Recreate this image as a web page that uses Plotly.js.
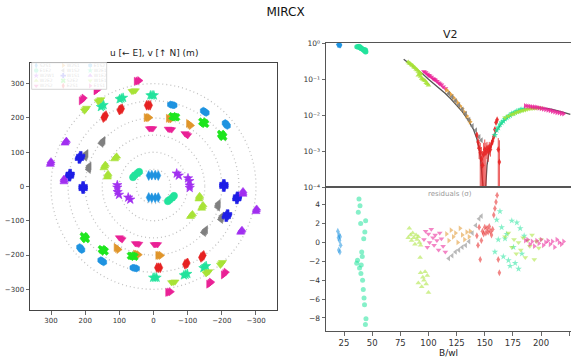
<!DOCTYPE html>
<html><head><meta charset="utf-8">
<script src="https://cdn.plot.ly/plotly-3.0.1.min.js"></script>
<style>html,body{margin:0;padding:0;background:#fff}#chart{width:571px;height:360px}</style>
</head><body><div id="chart"></div>
<script>
// ---------- baselines ----------
const baselines = ['S2S1','E1E2','W2W1','W2E2','W2S2','W2S1','W1S2','W1S1','S2E2','E2S1','E1S2','W2E1','W1E2','W1E1','E1S1'];
const colors = ['#1f93e0','#22e39c','#a12ff0','#a8e337','#ea2196','#e0962b','#808080','#1e1ee6','#1ee61e','#e62222','#1f93e0','#22e39c','#a12ff0','#a8e337','#ea2196'];
const symbols = ['diamond-tall','circle','star','triangle-up','triangle-down','triangle-right','triangle-left','cross','x','diamond-tall','hexagon','star','triangle-up','triangle-down','triangle-right'];

// ---------- uv coverage (m), one side; conjugate drawn mirrored ----------
const uS2S1 = [14,5,-5,-14];                                  const vS2S1 = [32,33,33,32];
const uE1E2 = [60,55,47,42];                                  const vE1E2 = [27,33,39,43];
const uW2W1 = [-68,-74,-101,-105,-106,-106];                  const vW2W1 = [38,32,24,16,3,-4];
const uW2E2 = [108,111,114,141,143,145,133,134,135];          const vW2E2 = [88,84,80,64,59,54,37,32,27];
const uW2S2 = [12,7,2,-43,-48,-53,-92,-96,-100];              const vW2S2 = [169,169,169,168,167,166,155,152,149];
const uW2S1 = [22,17,12,-43,-48,-53,-102,-106,-110];          const vW2S1 = [201,201,201,199,198,197,184,181,178];
const uW1S2 = [147,150,153,197,199,201,188,189,190];          const vW1S2 = [134,130,126,96,91,86,60,55,50];
const uW1S1 = [-206,-206,-206,-246,-245,-244,-217,-215,-213]; const vW1S1 = [8,3,-2,-28,-33,-38,-80,-85,-90];
const uS2E2 = [-56,-61,-66,-143,-147,-151,-198,-201,-204];    const vS2E2 = [205,203,202,189,186,183,153,149,145];
const uE2S1 = [20,15,10,100,96,92,147,143,139];               const vE2S1 = [237,237,237,223,225,227,201,204,207];
const uE1S2 = [-50,-55,-60,-146,-150,-154,-210,-213,-216];    const vE1S2 = [239,238,237,221,218,215,185,181,177];
const uW2E1 = [9,4,-1,99,94,89,154,150,146];                  const vW2E1 = [266,266,266,255,257,259,232,235,238];
const uW1E2 = [255,257,259,300,301,302,262,262,262];          const vW1E2 = [134,130,126,74,69,64,23,18,13];
const uW1E1 = [63,58,53,162,158,154,202,199,196];             const vW1E1 = [278,279,280,248,251,254,221,225,229];
const uE1S1 = [51,46,41,169,165,161,212,208,204];             const vE1S1 = [307,308,309,279,282,285,250,254,258];
const circleRadii = [50,100,150,200,250,300];

// ---------- V2 and residuals vs B/wl ----------
const bwlS2S1 = [19.5,20,20.3,20.6,21,21.3,21.6,22];
const v2S2S1  = [0.93,0.92,0.94,0.91,0.92,0.90,0.91,0.90];
const resS2S1 = [1.2,0.5,-0.8,0.8,0.2,-1.0,0.6,-0.3];

const bwlE1E2 = [37.7,38.3,39.2,39.8,40.7,41.2,36.3,37.0,38.8,40.0,41.5,42.1,42.8,43.2,44.5,44.0,43.5,44.2,42.5,40.3];
const v2E1E2  = [0.82,0.83,0.80,0.77,0.72,0.71,0.80,0.79,0.75,0.73,0.68,0.66,0.63,0.62,0.58,0.57,0.66,0.65,0.67,0.72];
const resE1E2 = [3.2,4.6,3.9,2.0,-1.0,-1.5,-2.2,-1.9,-2.7,-3.3,-4.0,-5.0,-5.9,-6.6,-8.1,-8.7,1.1,2.3,0.4,-2.4];

const bwlW2E2 = [82,83,84,85,86,87,88,89,90,91,92,93,91,93,94,95,96,97,98,99,100,92.6];
const v2W2E2  = [0.30,0.28,0.27,0.25,0.24,0.22,0.21,0.19,0.18,0.165,0.155,0.145,0.13,0.12,0.105,0.10,0.095,0.09,0.08,0.075,0.068,0.14];
const resW2E2 = [0.5,1.5,0.8,0.2,1.0,0.5,-0.2,0.8,0.3,0.6,0.0,-0.3,-4.3,-3.2,-4.7,-3.7,-4.0,-3.1,-4.4,-3.5,-5.3,-1.6];

const bwlW2S2 = [96,97.5,99,100,101,102.5,104,105,106,107.5,109,110,111.5,113,115];
const v2W2S2  = [0.165,0.155,0.14,0.13,0.125,0.115,0.105,0.10,0.095,0.088,0.08,0.075,0.07,0.062,0.055];
const resW2S2 = [0.3,1.2,-0.5,0.9,0.0,1.4,0.5,-0.3,0.8,0.2,-0.8,1.0,0.4,-0.4,-1.0];

const bwlW2S1 = [116,118,120,122,124,126,128,130,132,134,136,137];
const v2W2S1  = [0.05,0.043,0.037,0.031,0.026,0.022,0.018,0.015,0.012,0.0095,0.0075,0.0065];
const resW2S1 = [0.9,0.2,1.3,0.6,1.0,0.0,1.5,0.8,0.3,1.1,0.6,1.2];

const bwlW1S2 = [118,121,124,127,130,133,136,139,142,145,147];
const v2W1S2  = [0.04,0.032,0.025,0.019,0.0145,0.011,0.0075,0.005,0.0038,0.0025,0.002];
const resW1S2 = [-1.7,-1.4,-1.0,-0.8,-0.5,-0.3,0.1,1.0,1.8,2.5,2.8];

const bwlE2S1 = [143,144,145,146,147,148,149,150,151,152,153,154,155,156,157,158,159,160,161,162,163];
const v2E2S1  = [0.0028,0.0018,0.0012,0.0009,0.0006,0.0004,0.0008,0.0011,0.0009,0.0012,0.0010,0.0013,0.0011,0.0016,0.0019,0.0025,0.004,0.0062,0.0075,0.0011,0.0005];
const errE2S1 = [0.0005,0.0006,0.0006,0.0008,0.0007,0.0006,0.0009,0.0010,0.0008,0.0006,0.0005,0.0005,0.0004,0.0004,0.0004,0.0004,0.0005,0.0006,0.0006,0.0012,0.0015];
const resE2S1 = [0.7,-0.3,1.6,-1.8,0.2,1.2,0.9,1.6,1.0,1.5,1.1,1.7,1.2,0.8,1.4,2.9,3.6,4.3,5.0,-1.8,-3.2];

const bwlW2E1 = [159,160.6,162,163.5,165,166.5,168,169.5,171,172.5,174,175.5,177,178.5,180,181.5,183,185];
const v2W2E1  = [0.0028,0.0038,0.0045,0.0055,0.0062,0.0068,0.0078,0.0085,0.0092,0.0098,0.011,0.0112,0.012,0.0128,0.013,0.014,0.0142,0.0148];
const resW2E1 = [-1.0,2.4,0.3,3.3,1.6,-1.5,0.4,0.9,-1.9,-2.5,2.3,-0.5,-2.2,2.1,-2.8,1.5,-1.2,0.7];

const bwlW1E1 = [168,171,174,176,178,180,182,184,186,188,190,192,194,196,198,200];
const v2W1E1  = [0.0085,0.0095,0.0105,0.011,0.0118,0.0125,0.013,0.0135,0.014,0.0145,0.015,0.0153,0.0155,0.0158,0.016,0.0158];
const resW1E1 = [0.6,1.0,-0.5,0.3,-1.2,0.0,-0.8,0.5,-1.6,0.2,-0.4,0.8,-1.8,0.1,-0.6,0.3];

const bwlE1S1 = [186,188,190,192,194,196,198,200,202,204,206,208,210,212,214,216,218,220];
const v2E1S1  = [0.018,0.0178,0.0175,0.017,0.0168,0.0165,0.016,0.0155,0.015,0.0145,0.014,0.0135,0.013,0.0125,0.012,0.0117,0.0113,0.011];
const resE1S1 = [0.2,0.3,-0.2,0.1,-0.4,0.2,-0.1,0.3,-0.3,0.0,0.2,-0.2,0.1,-0.5,0.3,0.0,-0.2,0.1];

// model curve
const modelBwl = [78,85,90,95,100,105,110,115,120,125,130,135,140,143,145,146.5,147.5,148.5,150,151,152,154,156,158,160,165,170,175,180,185,190,195,200,205,210,215,220,226];
const modelV2  = [0.36,0.25,0.19,0.14,0.1,0.075,0.055,0.04,0.028,0.019,0.0125,0.0075,0.004,0.0022,0.0012,0.0005,0.00015,0.00003,0.00003,0.00012,0.0004,0.001,0.0017,0.0026,0.0035,0.006,0.0085,0.011,0.013,0.0145,0.0155,0.016,0.016,0.0155,0.0145,0.0135,0.012,0.0105];

const logTickVals = [1e-4,1e-3,1e-2,1e-1,1];
const logTickText = ['10⁻⁴','10⁻³','10⁻²','10⁻¹','10⁰'];
const resTickVals = [-8,-6,-4,-2,0,2,4];
const bwlTickVals = [25,50,75,100,125,150,175,200,225];
const uvTickVals = [300,200,100,0,-100,-200,-300];

// ---------- build ----------
const uvData = {S2S1:[uS2S1,vS2S1],E1E2:[uE1E2,vE1E2],W2W1:[uW2W1,vW2W1],W2E2:[uW2E2,vW2E2],W2S2:[uW2S2,vW2S2],
  W2S1:[uW2S1,vW2S1],W1S2:[uW1S2,vW1S2],W1S1:[uW1S1,vW1S1],S2E2:[uS2E2,vS2E2],E2S1:[uE2S1,vE2S1],
  E1S2:[uE1S2,vE1S2],W2E1:[uW2E1,vW2E1],W1E2:[uW1E2,vW1E2],W1E1:[uW1E1,vW1E1],E1S1:[uE1S1,vE1S1]};
const v2Data = {S2S1:[bwlS2S1,v2S2S1,resS2S1],E1E2:[bwlE1E2,v2E1E2,resE1E2],W2E2:[bwlW2E2,v2W2E2,resW2E2],
  W2S2:[bwlW2S2,v2W2S2,resW2S2],W2S1:[bwlW2S1,v2W2S1,resW2S1],W1S2:[bwlW1S2,v2W1S2,resW1S2],
  E2S1:[bwlE2S1,v2E2S1,resE2S1],W2E1:[bwlW2E1,v2W2E1,resW2E1],W1E1:[bwlW1E1,v2W1E1,resW1E1],E1S1:[bwlE1S1,v2E1S1,resE1S1]};

const FONT = 'DejaVu Sans, sans-serif';
const traces = [];
baselines.forEach((b,i)=>{
  const [u,v] = uvData[b];
  traces.push({type:'scatter',mode:'markers',xaxis:'x',yaxis:'y',showlegend:false,name:b,
    x:u.concat(u.map(a=>-a)), y:v.concat(v.map(a=>-a)),
    marker:{color:colors[i],symbol:symbols[i],size:7,line:{width:0.6,color:colors[i]}}});
});
// model
traces.push({type:'scatter',mode:'lines',xaxis:'x2',yaxis:'y2',showlegend:false,x:modelBwl,y:modelV2,
  line:{color:'#555555',width:1.3}});
baselines.forEach((b,i)=>{
  if(!v2Data[b]) return;
  const [x,y,r] = v2Data[b];
  const t = {type:'scatter',mode:'markers',xaxis:'x2',yaxis:'y2',showlegend:false,name:b,x:x,y:y,
    marker:{color:colors[i],symbol:symbols[i],size:5,opacity:0.85,line:{width:0}}};
  if(b==='E2S1') t.error_y = {type:'data',array:errE2S1,visible:true,color:colors[i],thickness:0.8,width:0};
  traces.push(t);
  traces.push({type:'scatter',mode:'markers',xaxis:'x3',yaxis:'y3',showlegend:false,name:b,x:x,y:r,
    marker:{color:colors[i],symbol:symbols[i],size:5,opacity:0.55,line:{width:0}}});
});
// compact legend (3 columns x 5 rows) drawn on its own small axes
const legX = baselines.map((b,i)=>4.5+27*Math.floor(i/5));
const legY = baselines.map((b,i)=>2.7+5.1*(i%5));
traces.push({type:'scatter',mode:'markers',xaxis:'x4',yaxis:'y4',showlegend:false,hoverinfo:'skip',
  x:legX,y:legY,marker:{color:colors,symbol:symbols,size:4.5,line:{width:0}}});
traces.push({type:'scatter',mode:'text',xaxis:'x4',yaxis:'y4',showlegend:false,hoverinfo:'skip',
  x:legX.map(a=>a+3.5),y:legY,text:baselines,textposition:'middle right',
  textfont:{size:4.5,color:'#333',family:FONT}});

const W=571,H=360;
const px=(a)=>a/W, py=(a)=>1-a/H;
const axBase = {showgrid:false,zeroline:false,showline:true,mirror:true,linecolor:'#444',linewidth:1,
  ticks:'outside',ticklen:3.5,tickwidth:0.8,tickcolor:'#444',tickfont:{size:7,color:'#333',family:FONT}};

const shapes = circleRadii.map(r=>({type:'circle',xref:'x',yref:'y',x0:-r,x1:r,y0:-r,y1:r,
  line:{color:'#c2c2c2',width:1.3,dash:'1px,3px'},layer:'below'}));
shapes.push({type:'rect',xref:'paper',yref:'paper',x0:px(31.7),x1:px(106.7),y0:py(89.3),y1:py(62.7),
  line:{color:'#cccccc',width:0.8},fillcolor:'rgba(255,255,255,0.85)',layer:'above'});

const layout = {
  width:W,height:H,margin:{l:0,r:0,t:0,b:0},paper_bgcolor:'#fff',plot_bgcolor:'#fff',
  font:{family:FONT,color:'#222'},showlegend:false,
  title:{text:'MIRCX',font:{size:12,family:FONT,color:'#111'},x:0.5,xanchor:'center',xref:'paper',y:py(12),yref:'container',yanchor:'middle'},
  xaxis:Object.assign({},axBase,{domain:[px(30),px(277)],range:[361.5,-361.5],tickvals:uvTickVals}),
  yaxis:Object.assign({},axBase,{domain:[py(310),py(63)],range:[-360.4,360.4],tickvals:uvTickVals}),
  xaxis2:Object.assign({},axBase,{domain:[px(326),1],range:[9,226.6],showticklabels:false,ticks:'',anchor:'y2',linecolor:'#555'}),
  yaxis2:Object.assign({},axBase,{domain:[py(187),py(43.3)],type:'log',range:[-4,0],tickvals:logTickVals,ticktext:logTickText,anchor:'x2',linecolor:'#555',tickfont:{size:7.5,color:'#333',family:FONT}}),
  xaxis3:Object.assign({},axBase,{domain:[px(326),1],range:[9,226.6],tickvals:bwlTickVals,anchor:'y3',linecolor:'#555',tickfont:{size:8.5,color:'#333',family:FONT},
    title:{text:'B/wl',font:{size:9,family:FONT,color:'#222'},standoff:2}}),
  yaxis3:Object.assign({},axBase,{domain:[py(331),py(187)],range:[-9.39,5.88],tickvals:resTickVals,anchor:'x3',linecolor:'#555',tickfont:{size:7.5,color:'#333',family:FONT}}),
  xaxis4:{domain:[px(31.7),px(106.7)],range:[0,75],visible:false,fixedrange:true,anchor:'y4'},
  yaxis4:{domain:[py(89.3),py(62.7)],range:[26.6,0],visible:false,fixedrange:true,anchor:'x4'},
  shapes:shapes,
  annotations:[
    {text:'u [← E], v [↑ N] (m)',xref:'paper',yref:'paper',x:px(153.5),y:py(53),xanchor:'center',yanchor:'middle',showarrow:false,font:{size:9,family:FONT,color:'#222'}},
    {text:'V2',xref:'paper',yref:'paper',x:px(450),y:py(35),xanchor:'center',yanchor:'middle',showarrow:false,font:{size:11,family:FONT,color:'#222'}},
    {text:'residuals (σ)',xref:'paper',yref:'paper',x:px(450),y:py(194),xanchor:'center',yanchor:'middle',showarrow:false,font:{size:7,family:FONT,color:'#999'}}
  ]
};
Plotly.newPlot('chart',traces,layout,{displayModeBar:false,staticPlot:true});
</script></body></html>
